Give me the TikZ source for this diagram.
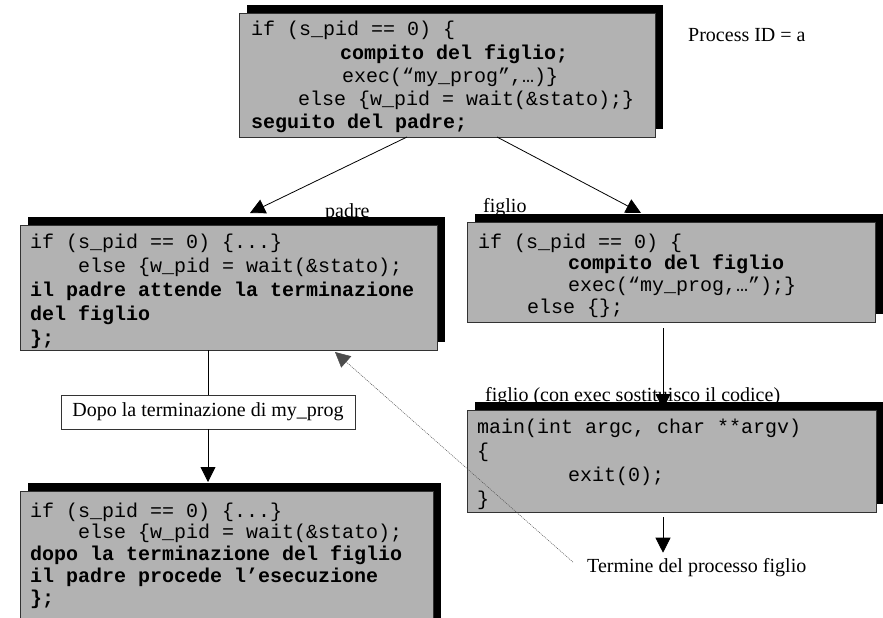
\documentclass[tikz,border=0pt]{standalone}
\usepackage{fontspec}
\setmainfont{Liberation Serif}
\newfontfamily\codefont{Liberation Mono}
\usetikzlibrary{arrows.meta,shadows}
\definecolor{boxgray}{RGB}{178,178,178}
\definecolor{edgegray}{RGB}{50,50,50}
\setlength\parindent{0pt}
\newcommand\monospaces{\spaceskip=12pt\relax\xspaceskip=12pt\relax}
\begin{document}
\begin{tikzpicture}[x=1pt,y=-1pt,
  codebox/.style={draw=edgegray, line width=0.8pt, fill=boxgray, inner sep=0pt, outer sep=0pt, anchor=north west,
    general shadow={fill=black, shadow xshift=7.5pt, shadow yshift=8pt}},
  code/.style={inner sep=0pt, anchor=base west, text width=430pt, align=left,
    font=\codefont\fontsize{20}{#1}\selectfont},
  code/.default=23.5,
  lab/.style={inner sep=0pt, anchor=base west, font=\fontsize{20}{24}\selectfont},
  arr/.style={draw=black, line width=0.8pt, -{Triangle[length=15pt,width=15pt]}},
  dotarr/.style={draw=black!70, line width=0.5pt, dash pattern=on 1pt off 1pt, -{Triangle[length=15pt,width=15pt]}},
  plainline/.style={draw=black, line width=0.8pt},
  note/.style={draw=black!80, line width=0.8pt, fill=white, inner sep=0pt, minimum width=294pt, minimum height=34pt,
    font=\fontsize{20}{24}\selectfont},
]
\useasboundingbox (0,0) rectangle (883,618);

% boxes
\node[codebox, minimum width=416pt, minimum height=124pt] (top) at (239,13) {};
\node[codebox, minimum width=417pt, minimum height=125pt] (padre) at (20,225) {};
\node[codebox, minimum width=408pt, minimum height=100pt] (figlio) at (467,222) {};
\node[codebox, minimum width=409pt, minimum height=102pt] (mainbox) at (467,410) {};
\node[codebox, minimum width=413pt, minimum height=140pt] (dopo) at (20,491) {};

% code
\node[code=23.2] (topcode) at (251,36) {\monospaces if (s\_pid == 0) \{\\
\hspace*{89pt}\textbf{compito del figlio;}\\
\hspace*{91pt}exec(“my\_prog”,…)\}\\
\hspace*{47pt}else \{w\_pid = wait(\&stato);\}\\
\textbf{seguito del padre;}};

\node[code=24.2] (padrecode) at (30,248) {\monospaces if (s\_pid == 0) \{...\}\\
\hspace*{48pt}else \{w\_pid = wait(\&stato);\\
\textbf{il padre attende la terminazione}\\
\textbf{del figlio}\\
\textbf{\};}};

\node[code=21.7] (figliocode) at (478,248) {\monospaces if (s\_pid == 0) \{\\
\hspace*{90pt}\textbf{compito del figlio}\\
\hspace*{90pt}exec(“my\_prog,…”);\}\\
\hspace*{49pt}else \{\};};

\node[code=24.3] (maincode) at (477,433) {\monospaces main(int argc, char **argv)\\
\{\\
\hspace*{91pt}exit(0);\\
\}};

\node[code=21.8] (dopocode) at (30,517) {\monospaces if (s\_pid == 0) \{...\}\\
\hspace*{48pt}else \{w\_pid = wait(\&stato);\\
\textbf{dopo la terminazione del figlio}\\
\textbf{il padre procede l’esecuzione}\\
\textbf{\};}};

% labels
\node[lab] (pid) at (688,42) {Process ID = a};
\node[lab] (lpadre) at (325,217) {padre};
\node[lab] (lfiglio) at (483,212) {figlio};
\node[lab] (lexec) at (485,401) {figlio (con exec sostituisco il codice)};
\node[lab] (term) at (587,572) {Termine del processo figlio};
\node[note] (lbl) at (208,412) {Dopo la terminazione di my\_prog};

% connectors
\draw[arr] ([xshift=168pt]top.south west) -- ([xshift=230pt,yshift=12pt]padre.north west);
\draw[arr] ([xshift=258pt]top.south west) -- ([xshift=174pt,yshift=9pt]figlio.north west);
\draw[arr] ([xshift=196pt,yshift=-6pt]figlio.south west) -- ([xshift=196pt,yshift=1pt]mainbox.north west);
\draw[arr] ([xshift=196pt,yshift=-5pt]mainbox.south west) -- ([xshift=76pt,yshift=5pt]term.north west);
\draw[plainline] (padre.south -| lbl.north) -- (lbl.north);
\draw[arr] (lbl.south) -- ([yshift=9pt]dopo.north -| lbl.south);
\draw[dotarr] ([xshift=-14pt,yshift=5pt]term.west) -- ([xshift=315pt,yshift=-2pt]padre.south west);
\end{tikzpicture}
\end{document}
